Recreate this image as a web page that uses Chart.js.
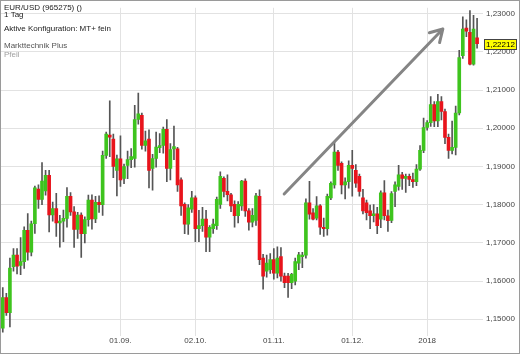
<!DOCTYPE html>
<html lang="de">
<head>
<meta charset="UTF-8">
<title>EUR/USD</title>
<style>
  html, body { margin: 0; padding: 0; background: #fff; }
  #wrap { width: 520px; height: 354px; }
</style>
</head>
<body>
<div id="wrap"><canvas id="chart" width="520" height="354"></canvas></div>
<script src="https://cdn.jsdelivr.net/npm/chart.js"></script>
<script>
// trading days, 18.07.2017 - 19.01.2018
const days = [
  '18.07.','19.07.','20.07.','21.07.','24.07.','25.07.','26.07.','27.07.','28.07.','31.07.',
  '01.08.','02.08.','03.08.','04.08.','07.08.','08.08.','09.08.','10.08.','11.08.','14.08.','15.08.','16.08.',
  '17.08.','18.08.','21.08.','22.08.','23.08.','24.08.','25.08.','28.08.','29.08.','30.08.','31.08.',
  '01.09.','04.09.','05.09.','06.09.','07.09.','08.09.','11.09.','12.09.','13.09.','14.09.','15.09.',
  '18.09.','19.09.','20.09.','21.09.','22.09.','25.09.','26.09.','27.09.','28.09.','29.09.',
  '02.10.','03.10.','04.10.','05.10.','06.10.','09.10.','10.10.','11.10.','12.10.','13.10.','16.10.',
  '17.10.','18.10.','19.10.','20.10.','23.10.','24.10.','25.10.','26.10.','27.10.','30.10.','31.10.',
  '01.11.','02.11.','03.11.','06.11.','07.11.','08.11.','09.11.','10.11.','13.11.','14.11.','15.11.',
  '16.11.','17.11.','20.11.','21.11.','22.11.','23.11.','24.11.','27.11.','28.11.','29.11.','30.11.',
  '01.12.','04.12.','05.12.','06.12.','07.12.','08.12.','11.12.','12.12.','13.12.','14.12.','15.12.',
  '18.12.','19.12.','20.12.','21.12.','22.12.','25.12.','26.12.','27.12.','28.12.','29.12.',
  '01.01.','02.01.','03.01.','04.01.','05.01.','08.01.','09.01.','10.01.','11.01.','12.01.',
  '15.01.','16.01.','17.01.','18.01.','19.01.'
];

const open = [
  1.1477,1.1557,1.1517,1.1638,1.1668,1.1641,1.1651,1.1733,1.1676,1.1750,
  1.1841,1.1814,1.1836,1.1877,1.1773,1.1790,1.1752,1.1757,1.1764,1.1822,1.1781,1.1735,
  1.1773,1.1724,1.1761,1.1812,1.1763,1.1806,1.1800,1.1929,1.1982,1.1972,1.1890,
  1.1920,1.1869,1.1903,1.1918,1.1921,1.2023,1.2034,1.1955,1.1972,1.1895,1.1921,
  1.1949,1.1955,1.1997,1.1895,1.1946,1.1946,1.1865,1.1801,1.1749,1.1788,
  1.1818,1.1737,1.1745,1.1762,1.1715,1.1737,1.1745,1.1801,1.1869,1.1835,1.1826,
  1.1801,1.1771,1.1797,1.1862,1.1784,1.1754,1.1759,1.1822,1.1660,1.1626,1.1630,
  1.1656,1.1621,1.1664,1.1613,1.1613,1.1596,1.1600,1.1647,1.1664,1.1668,1.1805,
  1.1779,1.1765,1.1797,1.1741,1.1737,1.1818,1.1852,1.1938,1.1908,1.1852,1.1860,
  1.1903,1.1890,1.1874,1.1818,1.1805,1.1784,1.1771,1.1776,1.1762,1.1831,1.1771,
  1.1759,1.1835,1.1848,1.1878,1.1869,1.1874,1.1866,1.1860,1.1893,1.1942,
  1.2002,1.2015,1.2062,1.2019,1.2070,1.2044,1.1976,1.1942,1.1950,1.2040,
  1.2190,1.2262,1.2251,1.2168,1.2237
];
const high = [
  1.1583,1.1568,1.1660,1.1685,1.1685,1.1714,1.1742,1.1777,1.1757,1.1849,
  1.1852,1.1910,1.1890,1.1890,1.1807,1.1830,1.1772,1.1786,1.1845,1.1832,1.1795,1.1780,
  1.1779,1.1768,1.1825,1.1826,1.1822,1.1823,1.1940,1.1990,1.2072,1.1985,1.1930,
  1.1980,1.1906,1.1940,1.1947,1.2060,1.2092,1.2040,1.1993,1.1996,1.1932,1.1990,
  1.1986,1.2003,1.2023,1.1960,1.2006,1.1950,1.1870,1.1805,1.1800,1.1835,
  1.1823,1.1785,1.1793,1.1785,1.1745,1.1762,1.1820,1.1886,1.1873,1.1878,1.1830,
  1.1810,1.1808,1.1864,1.1868,1.1790,1.1790,1.1830,1.1839,1.1670,1.1668,1.1672,
  1.1685,1.1690,1.1688,1.1621,1.1620,1.1620,1.1660,1.1675,1.1675,1.1815,1.1861,
  1.1790,1.1821,1.1800,1.1765,1.1828,1.1860,1.1963,1.1942,1.1912,1.1870,1.1915,
  1.1942,1.1905,1.1880,1.1840,1.1812,1.1799,1.1800,1.1793,1.1836,1.1863,1.1786,
  1.1834,1.1860,1.1903,1.1885,1.1880,1.1880,1.1883,1.1905,1.1955,1.2027,
  1.2020,1.2083,1.2070,1.2089,1.2083,1.2050,1.1985,1.2019,1.2058,1.2204,
  1.2292,1.2284,1.2308,1.2296,1.2288
];
const low = [
  1.1466,1.1510,1.1480,1.1626,1.1619,1.1617,1.1633,1.1655,1.1666,1.1725,
  1.1790,1.1800,1.1825,1.1729,1.1757,1.1717,1.1689,1.1703,1.1741,1.1772,1.1688,1.1712,
  1.1662,1.1700,1.1744,1.1736,1.1753,1.1780,1.1772,1.1921,1.1926,1.1871,1.1823,
  1.1848,1.1855,1.1868,1.1897,1.1898,1.2011,1.1945,1.1940,1.1844,1.1838,1.1898,
  1.1936,1.1935,1.1860,1.1865,1.1918,1.1835,1.1772,1.1724,1.1722,1.1780,
  1.1703,1.1703,1.1730,1.1677,1.1677,1.1725,1.1735,1.1790,1.1820,1.1810,1.1782,
  1.1741,1.1752,1.1785,1.1769,1.1733,1.1742,1.1746,1.1643,1.1579,1.1610,1.1620,
  1.1605,1.1608,1.1600,1.1583,1.1557,1.1580,1.1590,1.1630,1.1635,1.1660,1.1762,
  1.1760,1.1760,1.1722,1.1717,1.1720,1.1813,1.1843,1.1890,1.1828,1.1815,1.1843,
  1.1822,1.1845,1.1822,1.1776,1.1760,1.1737,1.1755,1.1724,1.1740,1.1760,1.1730,
  1.1753,1.1795,1.1838,1.1840,1.1832,1.1850,1.1845,1.1850,1.1890,1.1936,
  1.1995,1.2005,1.2004,1.2004,1.2022,1.1960,1.1921,1.1933,1.1930,1.2035,
  1.2183,1.2240,1.2166,1.2165,1.2210
];
const close = [
  1.1557,1.1517,1.1634,1.1668,1.1639,1.1651,1.1733,1.1676,1.1750,1.1844,
  1.1814,1.1862,1.1877,1.1773,1.1790,1.1752,1.1757,1.1764,1.1822,1.1781,1.1735,1.1773,
  1.1724,1.1761,1.1812,1.1763,1.1806,1.1800,1.1929,1.1985,1.1977,1.1900,1.1920,
  1.1865,1.1900,1.1918,1.1926,1.2023,1.2038,1.1955,1.1967,1.1890,1.1921,1.1951,
  1.1955,1.1997,1.1895,1.1944,1.1952,1.1852,1.1797,1.1749,1.1792,1.1818,
  1.1737,1.1745,1.1762,1.1715,1.1741,1.1749,1.1814,1.1874,1.1835,1.1826,1.1797,
  1.1771,1.1801,1.1862,1.1784,1.1754,1.1772,1.1823,1.1656,1.1613,1.1647,1.1656,
  1.1621,1.1660,1.1613,1.1596,1.1596,1.1618,1.1651,1.1669,1.1668,1.1805,1.1775,
  1.1762,1.1797,1.1741,1.1737,1.1822,1.1856,1.1938,1.1903,1.1852,1.1860,1.1903,
  1.1895,1.1856,1.1835,1.1784,1.1779,1.1771,1.1776,1.1745,1.1831,1.1771,1.1758,
  1.1829,1.1852,1.1878,1.1869,1.1874,1.1866,1.1860,1.1893,1.1942,1.2002,
  1.2015,1.2062,1.2019,1.2070,1.2044,1.1976,1.1942,1.1950,1.2040,1.2185,
  1.2260,1.2254,1.2168,1.2260,1.22212
];

const tickDays = ['01.09.', '02.10.', '01.11.', '01.12.', '01.01.'];
const tickText = ['01.09.', '02.10.', '01.11.', '01.12.', '2018'];
const priceTicks = [1.15, 1.16, 1.17, 1.18, 1.19, 1.20, 1.21, 1.22, 1.23];

// drawn trend arrow: [day index, price]
const arrowFrom = [78.9, 1.1828];
const arrowTo = [123.4, 1.2260];

const infoLines = [
  { text: 'EUR/USD (965275) ()', y: 10, color: '#222' },
  { text: '1 Tag', y: 17, color: '#222' },
  { text: 'Aktive Konfiguration: MT+ fein', y: 30.5, color: '#222' },
  { text: 'Markttechnik Plus', y: 48, color: '#555' },
  { text: 'Pfeil', y: 56.5, color: '#a0a0a0' }
];

const FONT = "'Liberation Sans', Arial, sans-serif";
const UP = '#3ec41e';
const DOWN = '#e8141c';

const overlay = {
  id: 'overlay',
  afterDatasetsDraw(chart) {
    const { ctx, scales: { x, y } } = chart;
    const x1 = x.getPixelForValue(arrowFrom[0]), y1 = y.getPixelForValue(arrowFrom[1]);
    const x2 = x.getPixelForValue(arrowTo[0]), y2 = y.getPixelForValue(arrowTo[1]);
    const ang = Math.atan2(y1 - y2, x1 - x2);
    ctx.save();
    ctx.strokeStyle = '#858585';
    ctx.lineWidth = 3;
    ctx.lineCap = 'round';
    ctx.lineJoin = 'round';
    ctx.beginPath();
    ctx.moveTo(x1, y1);
    ctx.lineTo(x2, y2);
    ctx.moveTo(x2 + 14 * Math.cos(ang + 0.53), y2 + 14 * Math.sin(ang + 0.53));
    ctx.lineTo(x2, y2);
    ctx.lineTo(x2 + 14 * Math.cos(ang - 0.53), y2 + 14 * Math.sin(ang - 0.53));
    ctx.stroke();
    ctx.restore();
  },
  afterDraw(chart) {
    const { ctx, scales: { y } } = chart;
    ctx.save();
    ctx.font = '8px ' + FONT;
    ctx.textBaseline = 'alphabetic';
    ctx.textAlign = 'left';
    infoLines.forEach(l => {
      ctx.fillStyle = l.color;
      ctx.fillText(l.text, 4, l.y);
    });
    // last price box
    const last = close[close.length - 1];
    const py = Math.round(y.getPixelForValue(last));
    ctx.fillStyle = '#ffff00';
    ctx.fillRect(484, py - 5, 33, 11);
    ctx.strokeStyle = '#444';
    ctx.lineWidth = 1;
    ctx.strokeRect(484.5, py - 4.5, 32, 10);
    ctx.fillStyle = '#000';
    ctx.textBaseline = 'middle';
    ctx.fillText(last.toFixed(5).replace('.', ','), 486, py + 0.5);
    // frame
    ctx.strokeStyle = '#9a9a9a';
    ctx.strokeRect(0.5, 0.5, 519, 353);
    ctx.restore();
  }
};

const ctx = document.getElementById('chart').getContext('2d');
const chart = new Chart(ctx, {
  type: 'bar',
  data: {
    datasets: [
      {
        label: 'wick',
        data: days.map((d, i) => ({ x: i, y: [low[i], high[i]] })),
        backgroundColor: '#555',
        barThickness: 1,
        grouped: false,
        order: 2
      },
      {
        label: 'body',
        data: days.map((d, i) => ({ x: i, y: [open[i], close[i]] })),
        backgroundColor: days.map((d, i) => close[i] >= open[i] ? UP : DOWN),
        barThickness: 3,
        minBarLength: 1,
        grouped: false,
        order: 1
      }
    ]
  },
  options: {
    responsive: false,
    animation: false,
    layout: { padding: { left: 1, top: 1, right: 0, bottom: 0 } },
    plugins: {
      legend: { display: false },
      tooltip: { enabled: false }
    },
    scales: {
      x: {
        type: 'linear',
        offset: false,
        min: -0.5,
        max: 134.66,
        afterBuildTicks: s => { s.ticks = tickDays.map(d => ({ value: days.indexOf(d) })); },
        afterFit: s => { s.height = 21; },
        ticks: {
          autoSkip: false,
          maxRotation: 0,
          padding: 0,
          color: '#444',
          font: { family: FONT, size: 8 },
          callback: (v, i) => tickText[i]
        },
        grid: { color: '#e2e2e2', tickLength: 3, offset: false },
        border: { display: false }
      },
      y: {
        type: 'linear',
        position: 'right',
        min: 1.14641,
        max: 1.23154,
        afterBuildTicks: s => { s.ticks = priceTicks.map(v => ({ value: v })); },
        afterFit: s => { s.width = 37; },
        ticks: {
          padding: 3,
          color: '#444',
          font: { family: FONT, size: 8 },
          callback: v => v.toFixed(5).replace('.', ',')
        },
        grid: { color: '#e2e2e2', drawTicks: false },
        border: { display: false }
      }
    }
  },
  plugins: [overlay]
});
</script>
</body>
</html>
